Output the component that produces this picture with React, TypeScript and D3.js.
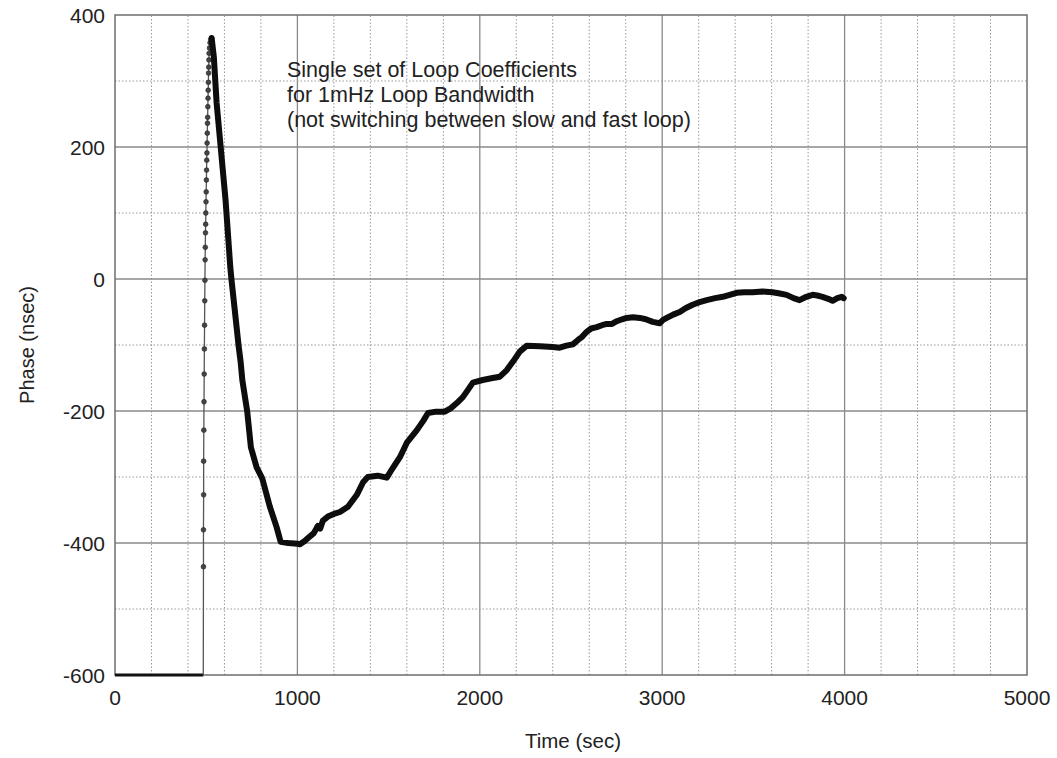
import { useEffect, useRef } from "react"
import { select, scaleLinear, line, range } from "d3"

// flat part before the step (sec, nsec)
const baseTime = [0, 484]
const basePhase = [-600, -600]

// sparse samples of the fast rise (drawn as dots)
const riseTime = [484, 485, 485, 486, 486, 487, 488, 489, 490, 491, 492, 493, 494, 495, 496, 497, 498, 499, 500, 501, 502, 503, 504, 505, 506, 507, 508, 509, 510, 511, 512, 513, 514, 515, 516, 518, 521, 525, 530]
const risePhase = [-600, -436, -380, -327, -276, -229, -186, -144, -106, -70, -33, -2, 29, 48, 70, 83, 100, 117, 132, 150, 165, 180, 191, 206, 221, 236, 245, 261, 274, 286, 298, 312, 321, 332, 342, 350, 358, 363, 365]

// dense part of the trace (looks like a thick line)
const trackTime = [530, 542, 557, 581, 606, 614, 632, 639, 678, 689, 698, 725, 745, 776, 807, 849, 886, 908, 950, 1000, 1014, 1040, 1060, 1090, 1112, 1125, 1140, 1167, 1200, 1233, 1277, 1326, 1360, 1386, 1440, 1490, 1510, 1562, 1600, 1655, 1690, 1716, 1760, 1808, 1840, 1874, 1907, 1935, 1962, 2016, 2070, 2110, 2148, 2185, 2219, 2258, 2330, 2400, 2438, 2475, 2510, 2540, 2559, 2586, 2610, 2641, 2670, 2696, 2725, 2751, 2780, 2805, 2840, 2877, 2910, 2948, 2986, 3005, 3025, 3060, 3096, 3130, 3167, 3205, 3244, 3290, 3332, 3370, 3408, 3450, 3496, 3550, 3605, 3645, 3682, 3720, 3753, 3790, 3825, 3850, 3879, 3910, 3934, 3960, 3984, 3995]
const trackPhase = [365, 336, 267, 195, 120, 89, 18, -2, -102, -126, -153, -201, -255, -285, -302, -345, -376, -398, -400, -401, -402, -397, -392, -385, -374, -378, -366, -360, -356, -353, -345, -327, -308, -300, -298, -301, -292, -270, -248, -229, -215, -203, -201, -201, -196, -188, -179, -168, -157, -153, -150, -148, -138, -124, -110, -101, -102, -103, -104, -101, -99, -92, -88, -80, -75, -73, -70, -68, -68, -64, -61, -59, -58, -59, -61, -65, -67, -62, -59, -54, -50, -44, -39, -35, -32, -29, -27, -24, -21, -20, -20, -19, -20, -22, -24, -29, -32, -27, -24, -25, -27, -30, -33, -29, -27, -29]

const xTicks = [0, 1000, 2000, 3000, 4000, 5000]
const yTicks = [-600, -400, -200, 0, 200, 400]
const noteLines = [
    "Single set of Loop Coefficients",
    "for 1mHz Loop Bandwidth",
    "(not switching between slow and fast loop)",
]

const W = 1057
const H = 758
const margin = { left: 115, right: 30, top: 15, bottom: 83 }
const FONT = "Arial, 'Liberation Sans', Helvetica, sans-serif"

const App = () => {
    const svgRef = useRef<SVGSVGElement>(null)

    useEffect(() => {
        const x = scaleLinear().domain([0, 5000]).range([margin.left, W - margin.right])
        const y = scaleLinear().domain([-600, 400]).range([H - margin.bottom, margin.top])

        const svg = select(svgRef.current)
        svg.selectAll("*").remove()

        const [x0, x1] = x.range()
        const [y0, y1] = y.range()

        // grid: dotted every 200 sec / 100 nsec, solid at major ticks
        const grid = svg.append("g")
        range(200, 5000, 200).forEach((t) => {
            const major = t % 1000 === 0
            grid.append("line")
                .attr("x1", x(t)).attr("x2", x(t))
                .attr("y1", y0).attr("y2", y1)
                .attr("stroke", major ? "#8a8a8a" : "#999")
                .attr("stroke-width", major ? 1.3 : 1)
                .attr("stroke-dasharray", major ? null : "1.5,2")
        })
        range(-500, 400, 100).forEach((v) => {
            const major = v % 200 === 0
            grid.append("line")
                .attr("x1", x0).attr("x2", x1)
                .attr("y1", y(v)).attr("y2", y(v))
                .attr("stroke", major ? "#8a8a8a" : "#999")
                .attr("stroke-width", major ? 1.3 : 1)
                .attr("stroke-dasharray", major ? null : "1.5,2")
        })

        // frame
        svg.append("rect")
            .attr("x", x0).attr("y", y1)
            .attr("width", x1 - x0).attr("height", y0 - y1)
            .attr("fill", "none")
            .attr("stroke", "#6e6e6e")
            .attr("stroke-width", 1.5)

        // tick labels
        svg.append("g").selectAll("text")
            .data(xTicks)
            .enter()
            .append("text")
            .attr("x", (d) => x(d))
            .attr("y", y0 + 30)
            .attr("text-anchor", "middle")
            .attr("font-family", FONT)
            .attr("font-size", 21)
            .attr("fill", "#222")
            .text((d) => d)

        svg.append("g").selectAll("text")
            .data(yTicks)
            .enter()
            .append("text")
            .attr("x", x0 - 10)
            .attr("y", (d) => y(d))
            .attr("dy", "0.36em")
            .attr("text-anchor", "end")
            .attr("font-family", FONT)
            .attr("font-size", 21)
            .attr("fill", "#222")
            .text((d) => d)

        // axis titles
        svg.append("text")
            .attr("x", 573)
            .attr("y", 748)
            .attr("text-anchor", "middle")
            .attr("font-family", FONT)
            .attr("font-size", 20.5)
            .attr("fill", "#222")
            .text("Time (sec)")
        svg.append("text")
            .attr("transform", `translate(34, ${(y0 + y1) / 2}) rotate(-90)`)
            .attr("text-anchor", "middle")
            .attr("font-family", FONT)
            .attr("font-size", 20)
            .attr("fill", "#222")
            .text("Phase (nsec)")

        // annotation
        const note = svg.append("text")
            .attr("font-family", FONT)
            .attr("font-size", 21.5)
            .attr("fill", "#222")
        noteLines.forEach((s, i) => {
            note.append("tspan")
                .attr("x", 287)
                .attr("y", 77 + i * 25)
                .text(s)
        })

        const path = line<number>()
            .x((d) => d[0])
            .y((d) => d[1])

        // baseline at -600
        const basePts = baseTime.map((t, i) => [x(t), y(basePhase[i])])
        svg.append("path")
            .attr("d", path(basePts as any))
            .attr("fill", "none")
            .attr("stroke", "#111")
            .attr("stroke-width", 3)

        // fast rise: thin line plus dots
        const risePts = riseTime.map((t, i) => [x(t), y(risePhase[i])])
        svg.append("path")
            .attr("d", path(risePts as any))
            .attr("fill", "none")
            .attr("stroke", "#555")
            .attr("stroke-width", 1.3)
        svg.append("g").selectAll("circle")
            .data(risePts.slice(1))
            .enter()
            .append("circle")
            .attr("cx", (d) => d[0])
            .attr("cy", (d) => d[1])
            .attr("r", 2.4)
            .attr("fill", "#444")
            .attr("stroke", "#222")
            .attr("stroke-width", 0.6)

        // dense trace
        const trackPts = trackTime.map((t, i) => [x(t), y(trackPhase[i])])
        svg.append("path")
            .attr("d", path(trackPts as any))
            .attr("fill", "none")
            .attr("stroke", "#0d0d0d")
            .attr("stroke-width", 6)
            .attr("stroke-linejoin", "round")
            .attr("stroke-linecap", "round")
    }, [])

    return (
        <svg
            ref={svgRef}
            width={W}
            height={H}
            viewBox={`0 0 ${W} ${H}`}
            style={{ position: "absolute", left: 0, top: 0, background: "#fff" }}
        />
    )
}

export default App
